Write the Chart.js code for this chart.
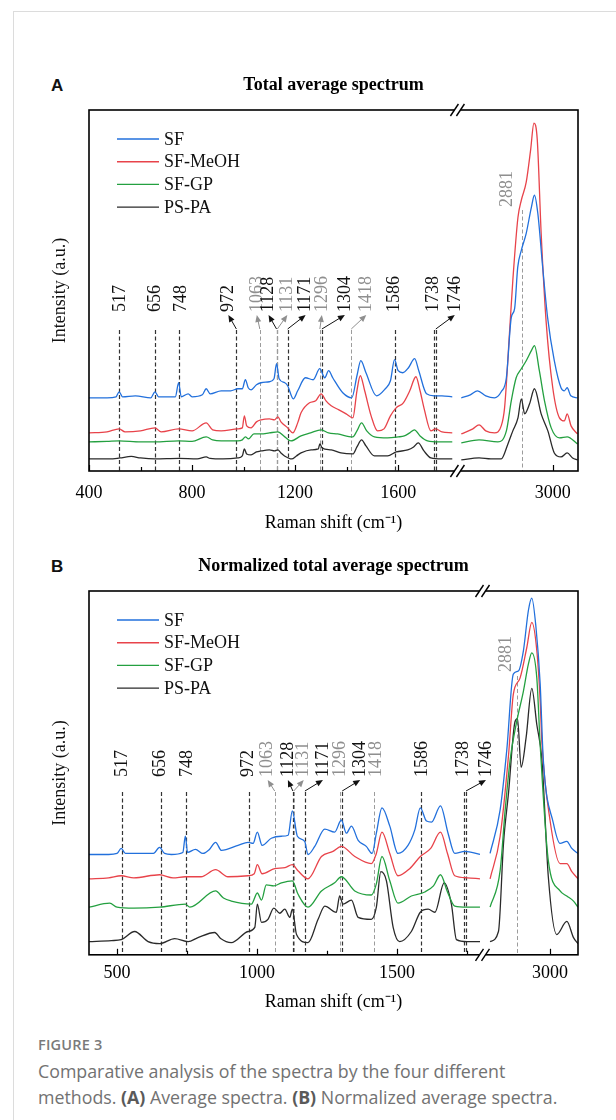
<!DOCTYPE html>
<html>
<head>
<meta charset="utf-8">
<script src="https://cdn.jsdelivr.net/npm/chart.js@4.4.1/dist/chart.umd.min.js"></script>
<style>
  body { margin: 0; background: #fff; }
  #page { position: relative; width: 616px; height: 1120px; overflow: hidden; background: #fff; }
  .frame { position: absolute; left: 13px; top: 11px; width: 800px; height: 1300px;
           border-left: 1px solid #dcdcdc; border-top: 1px solid #dcdcdc; }
  .panel { position: absolute; left: 0; }
  .letter { position: absolute; left: 51px; font: bold 17px "Liberation Sans", Arial, sans-serif; color: #111; }
  .caption { position: absolute; left: 38px; top: 1035px; width: 570px; font-family: "Open Sans", sans-serif; color: #727272; }
  .caption .fig { font-size: 14.5px; font-weight: 600; color: #7a7a7a; letter-spacing: 0.2px; }
  .caption .txt { font-size: 17.8px; line-height: 25.5px; margin-top: 5px; }
  .caption b { color: #5a5a5a; font-weight: 700; }
</style>
</head>
<body>
<div id="page">
  <div class="frame"></div>
  <div class="letter" style="top:76px">A</div>
  <div class="letter" style="top:557px">B</div>
  <canvas id="chartA" class="panel" style="top:0" width="616" height="540"></canvas>
  <canvas id="chartB" class="panel" style="top:540px" width="616" height="480"></canvas>
  <div class="caption">
    <div class="fig">FIGURE 3</div>
    <div class="txt">Comparative analysis of the spectra by the four different<br>methods. <b>(A)</b> Average spectra. <b>(B)</b> Normalized average spectra.</div>
  </div>
</div>
<script>
// ---- data: [Raman shift (cm-1), intensity (a.u.)] ----
const seriesNames = ['SF', 'SF-MeOH', 'SF-GP', 'PS-PA'];
const seriesColors = ['#2270dc', '#e8434a', '#24a040', '#2a2a2a'];

// panel A, total average spectrum
const sfA = [[400,73],[470,73],[505,74],[517,79],[530,74],[580,75],[640,73],[656,79],[670,74],[735,74],[748,88],[758,74],[785,77],[800,74],[840,76],[855,82],[870,77],[913,80],[950,80],[978,82],[995,82],[1007,91],[1018,83],[1029,81],[1050,86],[1068,88],[1100,89],[1118,92],[1128,107],[1138,92],[1160,88],[1171,85],[1193,72],[1210,80],[1240,93],[1270,91],[1296,102],[1315,93],[1330,100],[1346,93],[1385,78],[1420,73],[1440,95],[1455,110],[1475,98],[1516,75],[1550,82],[1570,90],[1586,111],[1600,100],[1618,98],[1640,103],[1664,112],[1680,100],[1710,77],[1740,75],[1770,75],[1810,74],
  [2645,73],[2680,76],[2708,80],[2740,75],[2774,73],[2800,79],[2820,93],[2839,153],[2852,162],[2864,203],[2878,220],[2897,237],[2917,263],[2929,275],[2942,257],[2961,203],[2980,153],[3006,110],[3032,83],[3045,80],[3056,83],[3070,75],[3096,73]];
const meohA = [[400,38],[470,39],[517,42],[540,39],[600,40],[656,43],[680,39],[748,42],[800,40],[855,48],[880,41],[913,40],[978,42],[995,43],[1003,55],[1012,45],[1029,43],[1050,49],[1068,51],[1100,52],[1120,51],[1133,54],[1145,49],[1171,43],[1191,38],[1210,48],[1223,58],[1256,68],[1280,70],[1301,77],[1320,70],[1340,65],[1370,61],[1398,57],[1424,53],[1440,80],[1453,95],[1470,80],[1495,55],[1520,40],[1545,42],[1570,55],[1592,63],[1620,68],[1645,80],[1669,94],[1685,80],[1701,62],[1727,40],[1746,42],[1770,39],[1810,38],
  [2645,37],[2690,42],[2714,46],[2740,40],[2774,38],[2800,45],[2813,63],[2832,137],[2845,190],[2865,253],[2878,270],[2897,288],[2914,320],[2927,347],[2940,330],[2955,237],[2974,150],[3000,83],[3026,53],[3045,50],[3056,57],[3071,45],[3096,37]];
const gpA = [[400,29],[470,29.5],[517,30],[600,29],[656,29],[748,30],[800,29.5],[855,34],[880,31],[913,30],[978,30],[995,31],[1007,34],[1019,32],[1040,37],[1068,37],[1100,38],[1133,39],[1160,34],[1184,30],[1223,35],[1260,38],[1301,41],[1330,38],[1365,37],[1424,34],[1440,40],[1458,48],[1478,40],[1508,34],[1559,33],[1600,34],[1624,35],[1645,38],[1663,41],[1685,35],[1714,30],[1760,29],[1810,29],
  [2645,28],[2714,31],[2787,29],[2820,40],[2839,70],[2858,93],[2878,102],[2897,110],[2917,120],[2929,125],[2948,100],[2968,70],[2994,43],[3026,33],[3056,34],[3096,27]];
const papA = [[400,12],[480,12],[520,13],[564,14.5],[600,13],[656,12],[748,12.5],[820,12],[855,14],[870,12.5],[920,12],[978,13],[995,15],[1003,22],[1012,17],[1029,16],[1050,19],[1068,20],[1100,21],[1120,20],[1133,21],[1145,18],[1159,15],[1187,12],[1205,15],[1223,18],[1262,21],[1290,22],[1296,27],[1305,23],[1340,21],[1378,18],[1424,17],[1440,24],[1458,31],[1475,25],[1508,15],[1559,15],[1592,19],[1637,21],[1660,24],[1678,28],[1700,20],[1727,13],[1770,12],[1810,12],
  [2645,11],[2714,13],[2760,12],[2800,12],[2826,27],[2845,40],[2865,53],[2878,72],[2891,57],[2910,67],[2929,82],[2955,57],[2981,40],[3006,18],[3032,14],[3056,18],[3077,13],[3096,11]];

// panel B, normalized total average spectrum
const sfB = [[400,99],[470,99],[500,100],[515,105],[530,100],[575,100],[630,100],[652,106],[670,100],[694,99],[735,101],[744,117],[752,101],[780,104],[807,100],[830,104],[852,111],[873,103],[932,108],[968,111],[986,110],[1001,121],[1018,108],[1051,115],[1087,117],[1111,118],[1126,142],[1144,117],[1170,112],[1182,99],[1206,107],[1242,124],[1277,121],[1301,133],[1319,120],[1337,127],[1361,113],[1390,107],[1411,100],[1426,120],[1446,145],[1474,127],[1503,100],[1539,108],[1563,123],[1583,145],[1605,132],[1623,131],[1655,147],[1682,120],[1706,100],[1742,102],[1796,99],
  [2786,100],[2822,143],[2846,203],[2869,277],[2887,280],[2905,300],[2923,340],[2935,352],[2950,323],[2965,267],[2976,193],[3012,130],[3036,110],[3060,112],[3078,105],[3100,100]];
const meohB = [[400,75],[470,76],[515,78],[560,76],[652,79],[700,76],[744,77],[800,77],[852,84],[896,77],[968,78],[990,80],[1001,89],[1018,80],[1063,85],[1100,86],[1126,89],[1146,83],[1182,75],[1230,97],[1271,102],[1301,107],[1349,97],[1408,90],[1426,100],[1446,121],[1474,100],[1503,78],[1545,85],[1583,97],[1620,105],[1655,121],[1680,100],[1706,78],[1750,76],[1796,75],
  [2786,75],[2822,117],[2852,197],[2869,257],[2893,273],[2917,303],[2935,328],[2953,300],[2965,250],[2971,210],[3000,133],[3036,90],[3060,90],[3078,82],[3100,75]];
const gpB = [[400,47],[474,51],[500,47],[560,46],[652,47],[744,50],[760,47],[852,63],[880,56],[908,53],[980,50],[1001,61],[1016,54],[1033,69],[1060,68],[1087,71],[1126,73],[1146,60],[1182,47],[1230,63],[1277,71],[1301,77],[1349,63],[1408,59],[1426,70],[1446,97],[1474,73],[1503,51],[1551,58],[1599,62],[1630,68],[1655,79],[1680,62],[1706,48],[1750,47],[1796,47],
  [2786,47],[2822,83],[2840,143],[2858,193],[2881,230],[2905,260],[2923,287],[2935,298],[2953,273],[2965,207],[2994,93],[3036,63],[3060,58],[3084,53],[3100,47]];
const papB = [[400,13],[480,14],[515,15],[563,23],[611,13],[652,11],[706,16],[754,13],[789,17],[849,22],[870,16],[908,12],[968,23],[992,27],[1001,50],[1016,32],[1039,35],[1060,46],[1081,41],[1099,45],[1117,37],[1126,45],[1141,20],[1182,12],[1218,35],[1242,48],[1283,42],[1295,58],[1307,50],[1337,54],[1361,37],[1408,35],[1426,47],[1442,82],[1462,73],[1486,27],[1509,13],[1551,23],[1583,42],[1611,45],[1635,42],[1668,71],[1694,50],[1712,15],[1750,13],[1796,13],
  [2786,13],[2816,23],[2834,110],[2852,160],[2875,230],[2884,233],[2897,185],[2915,215],[2935,263],[2953,227],[2971,193],[2994,77],[3024,20],[3060,33],[3084,17],[3100,11]];

// marked bands
const peakShifts = [517, 656, 748, 972, 1063, 1128, 1131, 1171, 1296, 1304, 1418, 1586, 1738, 1746, 2881];
const greyPeaks = [1063, 1131, 1296, 1418, 2881];

// axis ticks
const ticksA = [400, 600, 800, 1000, 1200, 1400, 1600, 3000];
const majorA = [400, 800, 1200, 1600, 3000];
const ticksB = [500, 750, 1000, 1250, 1500, 1750, 3000];
const majorB = [500, 1000, 1500, 3000];

// ---- broken x axis: the gap between the two segments is cut out ----
function breakAxis(cut, resume) {
  return w => (w <= cut ? w : cut + (w - resume));
}
const toAxisA = breakAxis(1830, 2630);
const toAxisB = breakAxis(1805, 2759);

// label layout (pixels, relative to the dashed line / chart top)
const layoutA = {
  shift: {517:1, 656:0, 748:3, 972:-8, 1063:-3, 1128:-8, 1131:10, 1171:18, 1296:2, 1304:23, 1418:15, 1586:0, 1738:0, 1746:19, 2881:-15},
  arrows: [972, 1063, 1128, 1131, 1171, 1296, 1304, 1418, 1746],
  lineTop: 220, labelBase: 202, farLineTop: 100, farLabelBase: 97
};
const layoutB = {
  shift: {517:0, 656:0, 748:1, 972:-1, 1063:-7, 1128:-5, 1131:10, 1171:18, 1296:0, 1304:18, 1418:2, 1586:1, 1738:0, 1746:20, 2881:-10},
  arrows: [1063, 1128, 1131, 1171, 1304, 1746],
  lineTop: 201, labelBase: 186, farLineTop: 85, farLabelBase: 81
};

const SERIF = '"Liberation Serif", "Times New Roman", serif';

function buildSets(list, toAxis, cut) {
  return list.map((pts, i) => {
    const data = [];
    pts.forEach((p, k) => {
      if (k > 0 && pts[k - 1][0] <= cut && p[0] > cut) data.push({ x: cut, y: null });
      data.push({ x: toAxis(p[0]), y: p[1] });
    });
    return {
      label: seriesNames[i], data: data,
      borderColor: seriesColors[i], borderWidth: 1.3,
      pointRadius: 0, tension: 0.35, cubicInterpolationMode: 'monotone', spanGaps: false
    };
  });
}

function drawArrow(ctx, x1, y1, x2, y2, color) {
  const a = Math.atan2(y2 - y1, x2 - x1);
  ctx.strokeStyle = color; ctx.fillStyle = color; ctx.lineWidth = 1;
  ctx.setLineDash([]);
  ctx.beginPath(); ctx.moveTo(x1, y1); ctx.lineTo(x2 - 4 * Math.cos(a), y2 - 4 * Math.sin(a)); ctx.stroke();
  ctx.beginPath();
  ctx.moveTo(x2, y2);
  ctx.lineTo(x2 - 7 * Math.cos(a) + 3 * Math.sin(a), y2 - 7 * Math.sin(a) - 3 * Math.cos(a));
  ctx.lineTo(x2 - 7 * Math.cos(a) - 3 * Math.sin(a), y2 - 7 * Math.sin(a) + 3 * Math.cos(a));
  ctx.closePath(); ctx.fill();
}

function spectrumPlugin(toAxis, cut, lay) {
  return {
    id: 'spectrum',
    beforeDatasetsDraw(chart) {
      const { ctx, chartArea, scales: { x } } = chart;
      ctx.save();
      peakShifts.forEach(p => {
        const px = Math.round(x.getPixelForValue(toAxis(p))) + 0.5;
        const top = chartArea.top + (p === 2881 ? lay.farLineTop : lay.lineTop);
        const grey = greyPeaks.includes(p);
        ctx.strokeStyle = grey ? '#9c9c9c' : '#333';
        ctx.lineWidth = grey ? 1 : 1.2;
        ctx.setLineDash([4, 2.5]);
        ctx.beginPath(); ctx.moveTo(px, top); ctx.lineTo(px, chartArea.bottom); ctx.stroke();
      });
      ctx.restore();
    },
    afterDatasetsDraw(chart) {
      const { ctx, chartArea, scales: { x } } = chart;
      const { left, right, top, bottom } = chartArea;
      ctx.save();

      // peak labels and arrows
      peakShifts.forEach(p => {
        const px = x.getPixelForValue(toAxis(p));
        const lx = px + lay.shift[p];
        const far = p === 2881;
        const base = top + (far ? lay.farLabelBase : lay.labelBase);
        const lineTop = top + (far ? lay.farLineTop : lay.lineTop);
        const color = greyPeaks.includes(p) ? '#8f8f8f' : '#111';
        ctx.save();
        ctx.translate(lx, base);
        ctx.rotate(-Math.PI / 2);
        ctx.fillStyle = color;
        ctx.font = '18px ' + SERIF;
        ctx.textAlign = 'left'; ctx.textBaseline = 'middle';
        ctx.fillText(String(p), 0, 0);
        ctx.restore();
        if (lay.arrows.includes(p)) drawArrow(ctx, px, lineTop - 1, lx, base + 3, color);
      });

      // plot frame
      ctx.setLineDash([]);
      ctx.strokeStyle = '#000'; ctx.lineWidth = 1.6;
      ctx.strokeRect(left, top, right - left, bottom - top);

      // inward tick marks
      ctx.lineWidth = 1.2;
      x.ticks.forEach(t => {
        const tx = Math.round(x.getPixelForValue(t.value)) + 0.5;
        const len = t.label !== '' ? 6 : 4;
        ctx.beginPath(); ctx.moveTo(tx, bottom); ctx.lineTo(tx, bottom - len); ctx.stroke();
      });

      // axis break marks
      const bx = x.getPixelForValue(cut);
      [top, bottom].forEach(y => {
        ctx.fillStyle = '#fff';
        ctx.fillRect(bx - 3, y - 2, 6, 4);
        ctx.strokeStyle = '#000'; ctx.lineWidth = 1.4;
        [-3, 3].forEach(d => {
          ctx.beginPath(); ctx.moveTo(bx + d - 4, y + 6); ctx.lineTo(bx + d + 4, y - 6); ctx.stroke();
        });
      });

      // legend
      ctx.font = '18px ' + SERIF;
      ctx.textBaseline = 'middle'; ctx.textAlign = 'left';
      chart.data.datasets.forEach((ds, i) => {
        const y = top + 29 + i * 22.7;
        ctx.strokeStyle = ds.borderColor; ctx.lineWidth = 1.4;
        ctx.beginPath(); ctx.moveTo(left + 28, y); ctx.lineTo(left + 70, y); ctx.stroke();
        ctx.fillStyle = '#111';
        ctx.fillText(ds.label, left + 75, y + 1);
      });

      // y axis title
      ctx.save();
      ctx.translate(60, (top + bottom) / 2);
      ctx.rotate(-Math.PI / 2);
      ctx.textAlign = 'center'; ctx.textBaseline = 'middle';
      ctx.fillStyle = '#111';
      ctx.fillText('Intensity (a.u.)', 0, 0);
      ctx.restore();

      ctx.restore();
    }
  };
}

function makeChart(id, opts) {
  new Chart(document.getElementById(id), {
    type: 'line',
    data: { datasets: buildSets(opts.series, opts.toAxis, opts.cut) },
    options: {
      responsive: false,
      devicePixelRatio: 1,
      animation: false,
      layout: { padding: { left: 89, right: 38, top: opts.padTop, bottom: opts.padBottom } },
      plugins: {
        legend: { display: false },
        tooltip: { enabled: false },
        title: {
          display: true, text: opts.title, color: '#000',
          font: { family: SERIF, size: 18, weight: 'bold' },
          padding: { top: 0, bottom: 14.2 }
        }
      },
      scales: {
        x: {
          type: 'linear', min: opts.min, max: opts.max,
          grid: { display: false, drawTicks: false },
          border: { display: false },
          afterBuildTicks: s => { s.ticks = opts.ticks.map(v => ({ value: opts.toAxis(v) })); },
          ticks: {
            autoSkip: false, maxRotation: 0, padding: opts.tickPad, color: '#000',
            font: { family: SERIF, size: 18 },
            callback: (v, i) => (opts.major.includes(opts.ticks[i]) ? String(opts.ticks[i]) : '')
          },
          title: {
            display: true, text: 'Raman shift (cm\u207B\u00B9)', color: '#000',
            font: { family: SERIF, size: 18 },
            padding: { top: opts.titlePad, bottom: 0 }
          }
        },
        y: { display: false, min: 0, max: opts.ymax }
      }
    },
    plugins: [spectrumPlugin(opts.toAxis, opts.cut, opts.layout)]
  });
}

makeChart('chartA', {
  series: [sfA, meohA, gpA, papA], toAxis: toAxisA, cut: 1830,
  title: 'Total average spectrum', min: 400, max: 2298, ymax: 360,
  ticks: ticksA, major: majorA, padTop: 74.2, padBottom: 6.2, tickPad: 11, titlePad: -2.4,
  layout: layoutA
});
makeChart('chartB', {
  series: [sfB, meohB, gpB, papB], toAxis: toAxisB, cut: 1805,
  title: 'Normalized total average spectrum', min: 400, max: 2146, ymax: 359,
  ticks: ticksB, major: majorB, padTop: 15.2, padBottom: 7.2, tickPad: 7.2, titlePad: 0.4,
  layout: layoutB
});
</script>
</body>
</html>
